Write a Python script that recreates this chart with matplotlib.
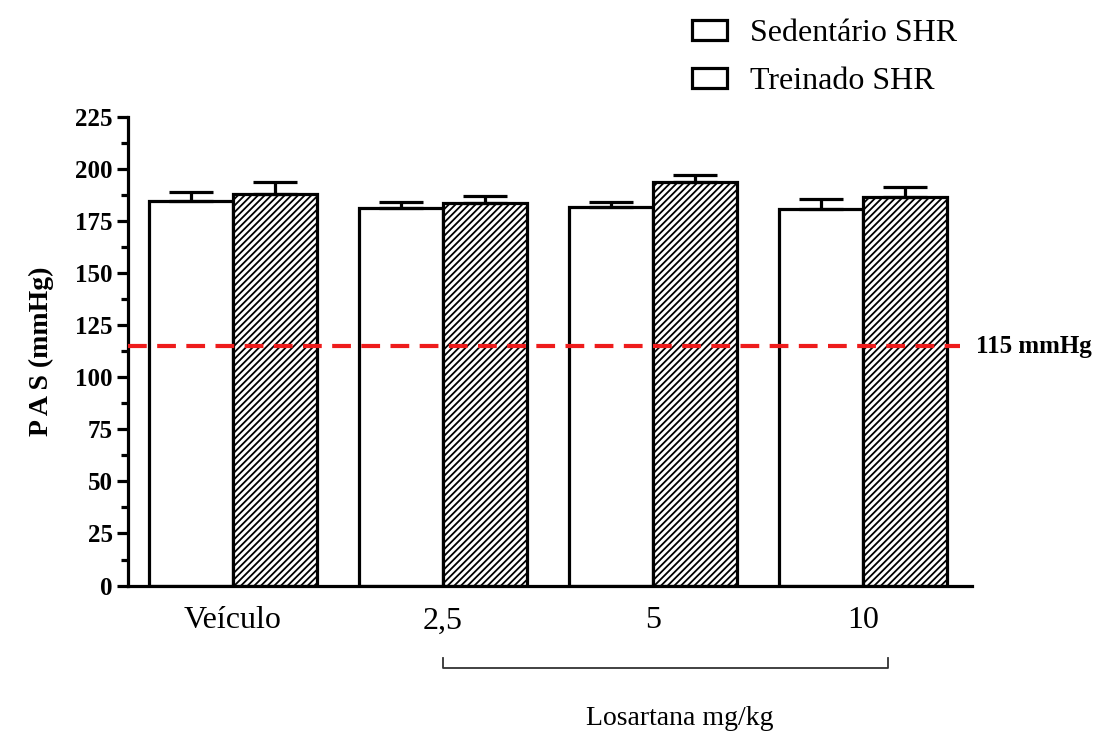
import numpy as np
import matplotlib.pyplot as plt
from matplotlib.patches import Patch
import matplotlib.transforms as mtransforms

groups = ["Veículo", "2,5", "5", "10"]
sed_mean = [185.0, 181.3, 181.7, 180.8]
sed_err = [4.3, 2.8, 2.4, 4.8]
trein_mean = [188.0, 183.7, 194.0, 186.8]
trein_err = [5.8, 3.6, 3.3, 4.8]
ref_line = 115

plt.rcParams['font.family'] = ['Liberation Serif', 'DejaVu Serif']
plt.rcParams['hatch.linewidth'] = 1.3

fig = plt.figure(figsize=(10.95, 7.33), dpi=100)
ax = fig.add_axes([0.1169, 0.2012, 0.7708, 0.6388])

x = np.arange(len(groups))
w = 0.4
lw = 2.3

ax.bar(x - w / 2, sed_mean, w, color='white', edgecolor='black', linewidth=lw, zorder=2)
ax.bar(x + w / 2, trein_mean, w, color='white', edgecolor='black', linewidth=lw,
       hatch='/////', zorder=2)
ax.errorbar(x - w / 2, sed_mean, yerr=[np.zeros(4), sed_err], fmt='none', ecolor='black',
            elinewidth=lw, capsize=15.5, capthick=lw, zorder=3)
ax.errorbar(x + w / 2, trein_mean, yerr=[np.zeros(4), trein_err], fmt='none', ecolor='black',
            elinewidth=lw, capsize=15.5, capthick=lw, zorder=3)

ax.plot([-0.5, 3.465], [ref_line, ref_line], color='#ee1c1c', linestyle=(0, (4.5, 2.5)),
        linewidth=3, zorder=4, clip_on=False)
ax.text(3.54, ref_line, "115 mmHg", fontsize=18, fontweight='bold', va='center', ha='left')

ax.set_xlim(-0.5, 3.52)
ax.set_ylim(0, 225)
ax.set_yticks(np.arange(0, 226, 25))
ax.set_yticks(np.arange(12.5, 225, 25), minor=True)
ax.set_xticks(x)
ax.set_xticklabels(groups, fontsize=23)
ax.tick_params(axis='x', length=0, pad=15)
ax.tick_params(axis='y', which='major', length=8, width=lw, labelsize=18, pad=3)
ax.tick_params(axis='y', which='minor', length=5, width=lw)
for lab in ax.get_yticklabels():
    lab.set_fontweight('bold')

for s in ['top', 'right']:
    ax.spines[s].set_visible(False)
for s in ['left', 'bottom']:
    ax.spines[s].set_linewidth(lw)

ax.set_ylabel("P A S (mmHg)", fontsize=20, fontweight='bold', labelpad=15)

# bracket for losartana doses
trans = mtransforms.blended_transform_factory(ax.transData, ax.transAxes)
ax.plot([1.0, 1.0, 3.12, 3.12], [-0.155, -0.176, -0.176, -0.155], color='#333333',
        linewidth=1.3, transform=trans, clip_on=False)
ax.text(2.13, -0.283, "Losartana mg/kg", fontsize=20, ha='center', va='center', transform=trans)

handles = [Patch(facecolor='white', edgecolor='black', linewidth=2.3),
           Patch(facecolor='white', edgecolor='black', linewidth=2.3)]
fig.legend(handles, ["Sedentário SHR", "Treinado SHR"], loc='upper left',
           bbox_to_anchor=(0.606, 1.013), frameon=False, fontsize=23,
           handlelength=1.1, handleheight=0.6, handletextpad=0.7, labelspacing=0.6)

fig.savefig("out.png", dpi=100)
